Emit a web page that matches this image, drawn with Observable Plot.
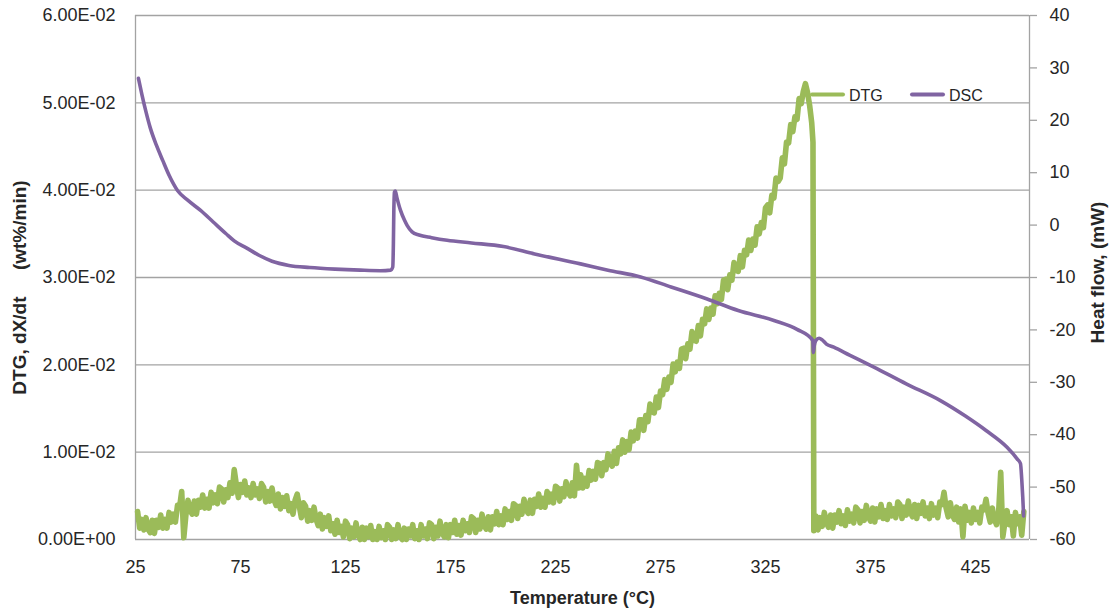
<!DOCTYPE html>
<html>
<head>
<meta charset="utf-8">
<script src="https://cdn.jsdelivr.net/npm/d3@7"></script>
<script src="https://cdn.jsdelivr.net/npm/@observablehq/plot@0.6"></script>
<style>
  html, body { margin: 0; padding: 0; background: #fff; }
  #wrap { position: relative; width: 1112px; height: 611px; font-family: "Liberation Sans", Arial, sans-serif; }
  #legend { position: absolute; left: 0; top: 0; pointer-events: none; }
</style>
</head>
<body>
<div id="wrap"></div>
<script>
// ---------------- DATA ----------------
// X axis (Temperature, °C)
const xMin = 25, xMax = 450.7;
const xTicks = [25, 75, 125, 175, 225, 275, 325, 375, 425];
// Left axis (DTG, wt%/min)
const leftTicks = [0, 0.01, 0.02, 0.03, 0.04, 0.05, 0.06];
// Right axis (Heat flow, mW)
const rightMin = -60, rightMax = 40;
const rightTicks = [-60, -50, -40, -30, -20, -10, 0, 10, 20, 30, 40];

// DTG readings, in units of 1e-4 wt%/min, one per °C from 26 to 347 °C
const dtgStartA = 26;
const dtgA = [
  32, 13, 23, 11, 25, 12, 8, 22, 7, 22,
  14, 28, 13, 23, 13, 31, 20, 29, 20, 39,
  37, 55, 2, 28, 45, 33, 29, 44, 29, 45,
  37, 51, 36, 46, 36, 54, 42, 51, 41, 60,
  58, 43, 57, 48, 65, 53, 80, 63, 48, 63,
  54, 67, 51, 59, 48, 64, 51, 58, 47, 64,
  60, 43, 55, 44, 59, 45, 39, 52, 35, 48,
  38, 50, 33, 41, 29, 45, 52, 38, 25, 42,
  38, 21, 33, 22, 37, 23, 16, 29, 12, 25,
  15, 27, 10, 18, 6, 22, 8, 15, 3, 21,
  17, 1, 13, 3, 19, 5, 0, 14, 0, 13,
  3, 16, 0, 9, 0, 15, 2, 10, 0, 17,
  14, 0, 11, 1, 17, 4, 0, 13, 0, 12,
  4, 17, 1, 10, 0, 17, 4, 12, 1, 19,
  17, 1, 14, 4, 21, 8, 3, 17, 2, 17,
  8, 22, 6, 16, 5, 22, 10, 18, 8, 26,
  24, 8, 22, 12, 29, 16, 12, 26, 11, 26,
  18, 32, 17, 27, 17, 35, 23, 32, 22, 41,
  39, 24, 38, 29, 46, 34, 30, 45, 30, 46,
  38, 52, 37, 47, 37, 55, 43, 52, 42, 61,
  59, 44, 58, 49, 66, 54, 50, 65, 50, 85,
  59, 74, 59, 70, 61, 79, 68, 78, 69, 88,
  87, 73, 88, 80, 98, 87, 84, 101, 87, 105,
  98, 114, 100, 112, 103, 123, 113, 124, 116, 137,
  137, 125, 142, 135, 155, 146, 145, 163, 151, 170,
  166, 183, 172, 186, 180, 201, 192, 203, 196, 218,
  219, 207, 224, 218, 238, 228, 227, 245, 233, 252,
  247, 264, 252, 265, 258, 279, 270, 282, 275, 297,
  298, 286, 303, 297, 317, 308, 307, 325, 312, 331,
  326, 343, 331, 344, 337, 358, 350, 363, 357, 380,
  383, 374, 394, 391, 414, 410, 414, 437, 430, 455,
  454, 475, 467, 484, 481, 505, 499, 513, 522, 512,
  497, 477
];
// the sudden drop at ~348 °C
const dtgDropT = [347.6, 348.0];
const dtgDropV = [455, 10];
// DTG readings, 1e-4 units, one per °C from 349 to 448 °C
const dtgStartB = 349;
const dtgB = [
  27, 11, 25, 15, 31, 19, 14, 28, 13, 28,
  20, 33, 18, 27, 16, 34, 21, 29, 19, 37,
  34, 19, 32, 22, 39, 26, 21, 36, 20, 35,
  26, 40, 24, 33, 23, 40, 27, 35, 25, 43,
  40, 24, 37, 28, 44, 31, 26, 40, 24, 39,
  30, 43, 27, 36, 24, 41, 28, 36, 25, 43,
  40, 54, 36, 26, 42, 28, 23, 37, 20, 35,
  3, 38, 22, 31, 19, 36, 23, 31, 19, 37,
  34, 46, 30, 20, 36, 23, 17, 31, 77, 3,
  20, 33, 17, 26, 4, 31, 18, 26, 5, 32
];

// DSC heat flow (mW)
const dscTemp = [26.4, 28, 30, 32, 35, 38, 41, 45, 50, 56, 62, 68, 72, 78, 84, 90, 98, 108, 120, 132,
  141.7, 146.5, 147.5, 147.8, 148.0, 148.3, 148.7, 149.5, 151.2, 153, 154.4, 156.7, 160, 166, 173.4,
  185, 200.2, 215, 236.9, 250, 265.5, 280, 297.2, 312, 329, 340, 347.5, 347.8, 348.2, 349, 350.5,
  352, 354, 357.5, 365, 376.6, 392, 408.3, 420, 430, 440, 444.8, 446.4, 447.0, 447.5, 447.9];
const dscFlow = [28.0, 25.0, 21.6, 18.6, 15.2, 12.3, 9.5, 6.6, 4.7, 2.8, 0.6, -1.6, -3.0, -4.4, -5.8, -6.9, -7.7, -8.1, -8.4, -8.6,
  -8.7, -8.6, -8.0, -3.5, 2.5, 6.3, 6.5, 5.2, 2.8, 1.0, -0.1, -1.3, -1.9, -2.4, -2.9,
  -3.4, -4.1, -5.5, -7.4, -8.6, -9.9, -11.8, -14.1, -16.3, -18.2, -19.9, -22.0, -24.3, -23.0, -22.0, -21.6,
  -21.9, -22.7, -23.3, -24.8, -27.1, -30.3, -33.5, -36.4, -39.2, -42.4, -44.6, -45.5, -48.5, -52.0, -55.5];

const seriesNames = ["DTG", "DSC"];
const colors = {DTG: "#9BBB59", DSC: "#8064A2"};

// ---------------- BUILD ----------------
const dtgRows = [
  ...dtgA.map((v, i) => ({t: dtgStartA + i, v: v * 1e-4})),
  ...dtgDropT.map((t, i) => ({t, v: dtgDropV[i] * 1e-4})),
  ...dtgB.map((v, i) => ({t: dtgStartB + i, v: v * 1e-4}))
];
const dscRows = dscTemp.map((t, i) => ({t, v: dscFlow[i]}));

const leftMax = 0.06;
const toLeft = v => (v - rightMin) / (rightMax - rightMin) * leftMax;
const fromLeft = y => y / leftMax * (rightMax - rightMin) + rightMin;

const sci = v => {
  if (v === 0) return "0.00E+00";
  const [m, e] = v.toExponential(2).split("e");
  const n = +e;
  return m + "E" + (n < 0 ? "-" : "+") + String(Math.abs(n)).padStart(2, "0");
};

const gridColor = "#a3a3a3";
const textColor = "#262626";
const sp = "\u00a0";

const chart = Plot.plot({
  width: 1112,
  height: 611,
  marginLeft: 135,
  marginRight: 83,
  marginTop: 15,
  marginBottom: 72,
  style: {fontFamily: "'Liberation Sans', Arial, sans-serif", fontSize: "18px", color: textColor, background: "#fff", overflow: "visible"},
  x: {domain: [xMin, xMax]},
  y: {domain: [0, leftMax]},
  marks: [
    Plot.gridY(leftTicks, {stroke: gridColor, strokeOpacity: 1, strokeWidth: 1.3}),
    Plot.ruleX([xMin, xMax], {stroke: gridColor, strokeWidth: 1.3}),
    Plot.line(dtgRows, {x: "t", y: "v", stroke: colors.DTG, strokeWidth: 5.6, strokeLinejoin: "round", strokeLinecap: "round"}),
    Plot.line(dscRows, {x: "t", y: d => toLeft(d.v), stroke: colors.DSC, strokeWidth: 3.6, strokeLinejoin: "round", strokeLinecap: "round", curve: "monotone-x"}),
    Plot.axisX(xTicks, {tickSize: 0, tickPadding: 21, tickFormat: d => String(d), label: null, fontSize: 18}),
    Plot.axisY(leftTicks, {anchor: "left", tickSize: 0, tickPadding: 20, tickFormat: sci, label: null, fontSize: 18}),
    Plot.axisY(rightTicks.map(toLeft), {anchor: "right", tickSize: 7, tickPadding: 13, stroke: gridColor, strokeWidth: 1.3,
      tickFormat: y => String(Math.round(fromLeft(y))), label: null, fontSize: 18}),
    Plot.text(["Temperature (°C)"], {frameAnchor: "bottom", dy: 59, textAnchor: "middle", lineAnchor: "middle", fontWeight: "bold", fontSize: 18, fill: textColor}),
    Plot.text(["DTG, dX/dt" + sp.repeat(5) + "(wt%/min)"], {frameAnchor: "left", dx: -116, dy: 10, rotate: -90, textAnchor: "middle", lineAnchor: "middle", fontWeight: "bold", fontSize: 19, fill: textColor}),
    Plot.text(["Heat flow, (mW)"], {frameAnchor: "right", dx: 68, dy: -5, rotate: -90, textAnchor: "middle", lineAnchor: "middle", fontWeight: "bold", fontSize: 19, fill: textColor})
  ]
});
document.getElementById("wrap").appendChild(chart);

// Legend overlay (top right inside the plot)
const ns = "http://www.w3.org/2000/svg";
const leg = document.createElementNS(ns, "svg");
leg.setAttribute("id", "legend");
leg.setAttribute("width", 1112);
leg.setAttribute("height", 611);
const legItems = [
  {name: seriesNames[0], x: 812},
  {name: seriesNames[1], x: 912}
];
legItems.forEach(it => {
  const ln = document.createElementNS(ns, "line");
  ln.setAttribute("x1", it.x); ln.setAttribute("x2", it.x + 31);
  ln.setAttribute("y1", 94.5); ln.setAttribute("y2", 94.5);
  ln.setAttribute("stroke", colors[it.name]);
  ln.setAttribute("stroke-width", 4);
  ln.setAttribute("stroke-linecap", "round");
  leg.appendChild(ln);
  const tx = document.createElementNS(ns, "text");
  tx.setAttribute("x", it.x + 37);
  tx.setAttribute("y", 100.5);
  tx.setAttribute("font-size", 16);
  tx.setAttribute("font-family", "'Liberation Sans', Arial, sans-serif");
  tx.setAttribute("fill", textColor);
  tx.textContent = it.name;
  leg.appendChild(tx);
});
document.getElementById("wrap").appendChild(leg);
</script>
</body>
</html>
